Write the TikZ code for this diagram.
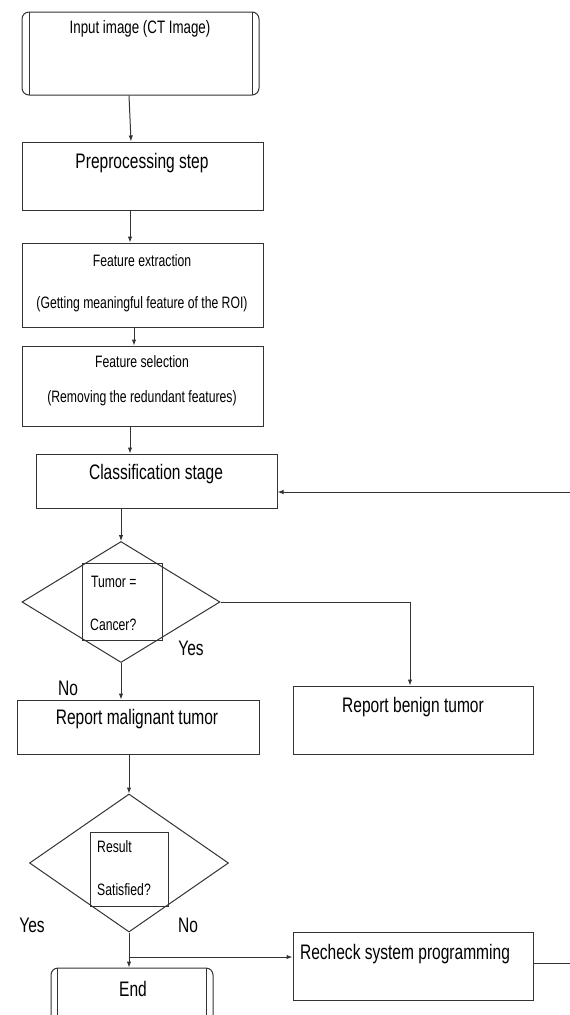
\documentclass[tikz,border=0pt]{standalone}
\usepackage{fontspec}
\setmainfont{Liberation Sans}
\newfontfamily\nar[FakeStretch=0.74]{Liberation Sans}
\usetikzlibrary{arrows.meta,shapes.geometric}
\tikzset{
  ln/.style={draw=black!80, line width=1pt},
  arr/.style={ln, -{Latex[length=6pt,width=4.5pt]}},
  box/.style={ln, rectangle, inner sep=0pt},
  dia/.style={ln, diamond, inner sep=0pt, aspect=1.6},
  big/.style={font=\nar\fontsize{21}{23}\selectfont, inner sep=0pt, text=black},
  mid/.style={font=\nar\fontsize{18}{20}\selectfont, inner sep=0pt, text=black},
  sml/.style={font=\nar\fontsize{16.5}{18}\selectfont, inner sep=0pt, text=black},
}
\begin{document}
\begin{tikzpicture}[x=1pt,y=-1pt]
\clip (0,0) rectangle (570,1015);
% input
\node[box, rounded corners=7pt, minimum width=237, minimum height=83] (in) at (140.5,53.5) {};
\draw[ln] (29,12) -- (29,95) (252,12) -- (252,95);
\node[mid] (tin) at (140,29) {Input image (CT Image)};
% preprocessing
\node[box, minimum width=241, minimum height=68] (pre) at (142.5,176) {};
\node[big] (tpre) at (142,163) {Preprocessing step};
% feature extraction
\node[box, minimum width=241, minimum height=84] (fe) at (142.5,285) {};
\node[sml] (tfe1) at (142,261) {Feature extraction};
\node[sml] (tfe2) at (142,304) {(Getting meaningful feature of the ROI)};
% feature selection
\node[box, minimum width=241, minimum height=80] (fs) at (142.5,386) {};
\node[sml] (tfs1) at (142,362) {Feature selection};
\node[sml] (tfs2) at (142,398) {(Removing the redundant features)};
% classification
\node[box, minimum width=241, minimum height=54] (cls) at (156.5,481) {};
\node[big] (tcls) at (156,474) {Classification stage};
% diamond 1
\node[dia, minimum width=198, minimum height=121] (d1) at (121,602) {};
\node[box, minimum width=80, minimum height=77] (b1) at (122.5,601.5) {};
\node[sml, anchor=west] (t1a) at (91,582) {Tumor =};
\node[sml, anchor=west] (t1b) at (90,625) {Cancer?};
\node[big] (yes1) at (191,648) {Yes};
\node[big] (no1) at (68,688) {No};
% malignant / benign
\node[box, minimum width=242, minimum height=54] (mal) at (138.5,727) {};
\node[big] (tmal) at (137,719) {Report malignant tumor};
\node[box, minimum width=240, minimum height=68] (ben) at (413,720) {};
\node[big] (tben) at (413,707) {Report benign tumor};
% diamond 2
\node[dia, minimum width=199, minimum height=138] (d2) at (129,863) {};
\node[box, minimum width=78, minimum height=74] (b2) at (129,869) {};
\node[sml, anchor=west] (t2a) at (97,847) {Result};
\node[sml, anchor=west] (t2b) at (97,890) {Satisfied?};
\node[big] (yes2) at (32,925) {Yes};
\node[big] (no2) at (188,925) {No};
% recheck
\node[box, minimum width=240, minimum height=68] (rec) at (413,966) {};
\node[big] (trec) at (405,954) {Recheck system programming};
% end
\node[box, rounded corners=7pt, minimum width=162, minimum height=70] (end) at (132,1003) {};
\draw[ln] (57,968) -- (57,1040) (206,968) -- (206,1040);
\node[big] (tend) at (133,989) {End};
% connectors
\draw[arr] ([xshift=-11.5]in.south) -- ([xshift=-11.5]pre.north);
\draw[arr] ([xshift=-12.5]pre.south) -- ([xshift=-12.5]fe.north);
\draw[arr] ([xshift=-8.5]fe.south) -- ([xshift=-8.5]fs.north);
\draw[arr] ([xshift=-12.5]fs.south) -- ([xshift=-12.5]fs.south |- cls.north);
\draw[arr] (cls.south -| d1.north) -- (d1.north);
\draw[arr] (d1.south) -- (d1.south |- mal.north);
\draw[arr] (d1.east) -| ([xshift=-3]ben.north);
\draw[arr] (d2.north |- mal.south) -- (d2.north);
\draw[arr] (d2.south) -- (d2.south |- end.north);
\coordinate (br) at (d2.south |- 0,957);
\draw[arr] (br) -- (br -| rec.west);
\coordinate (lp) at (576,492);
\draw[arr] ([yshift=3]rec.east) -| (lp) -- (lp -| cls.east);
\end{tikzpicture}
\end{document}
